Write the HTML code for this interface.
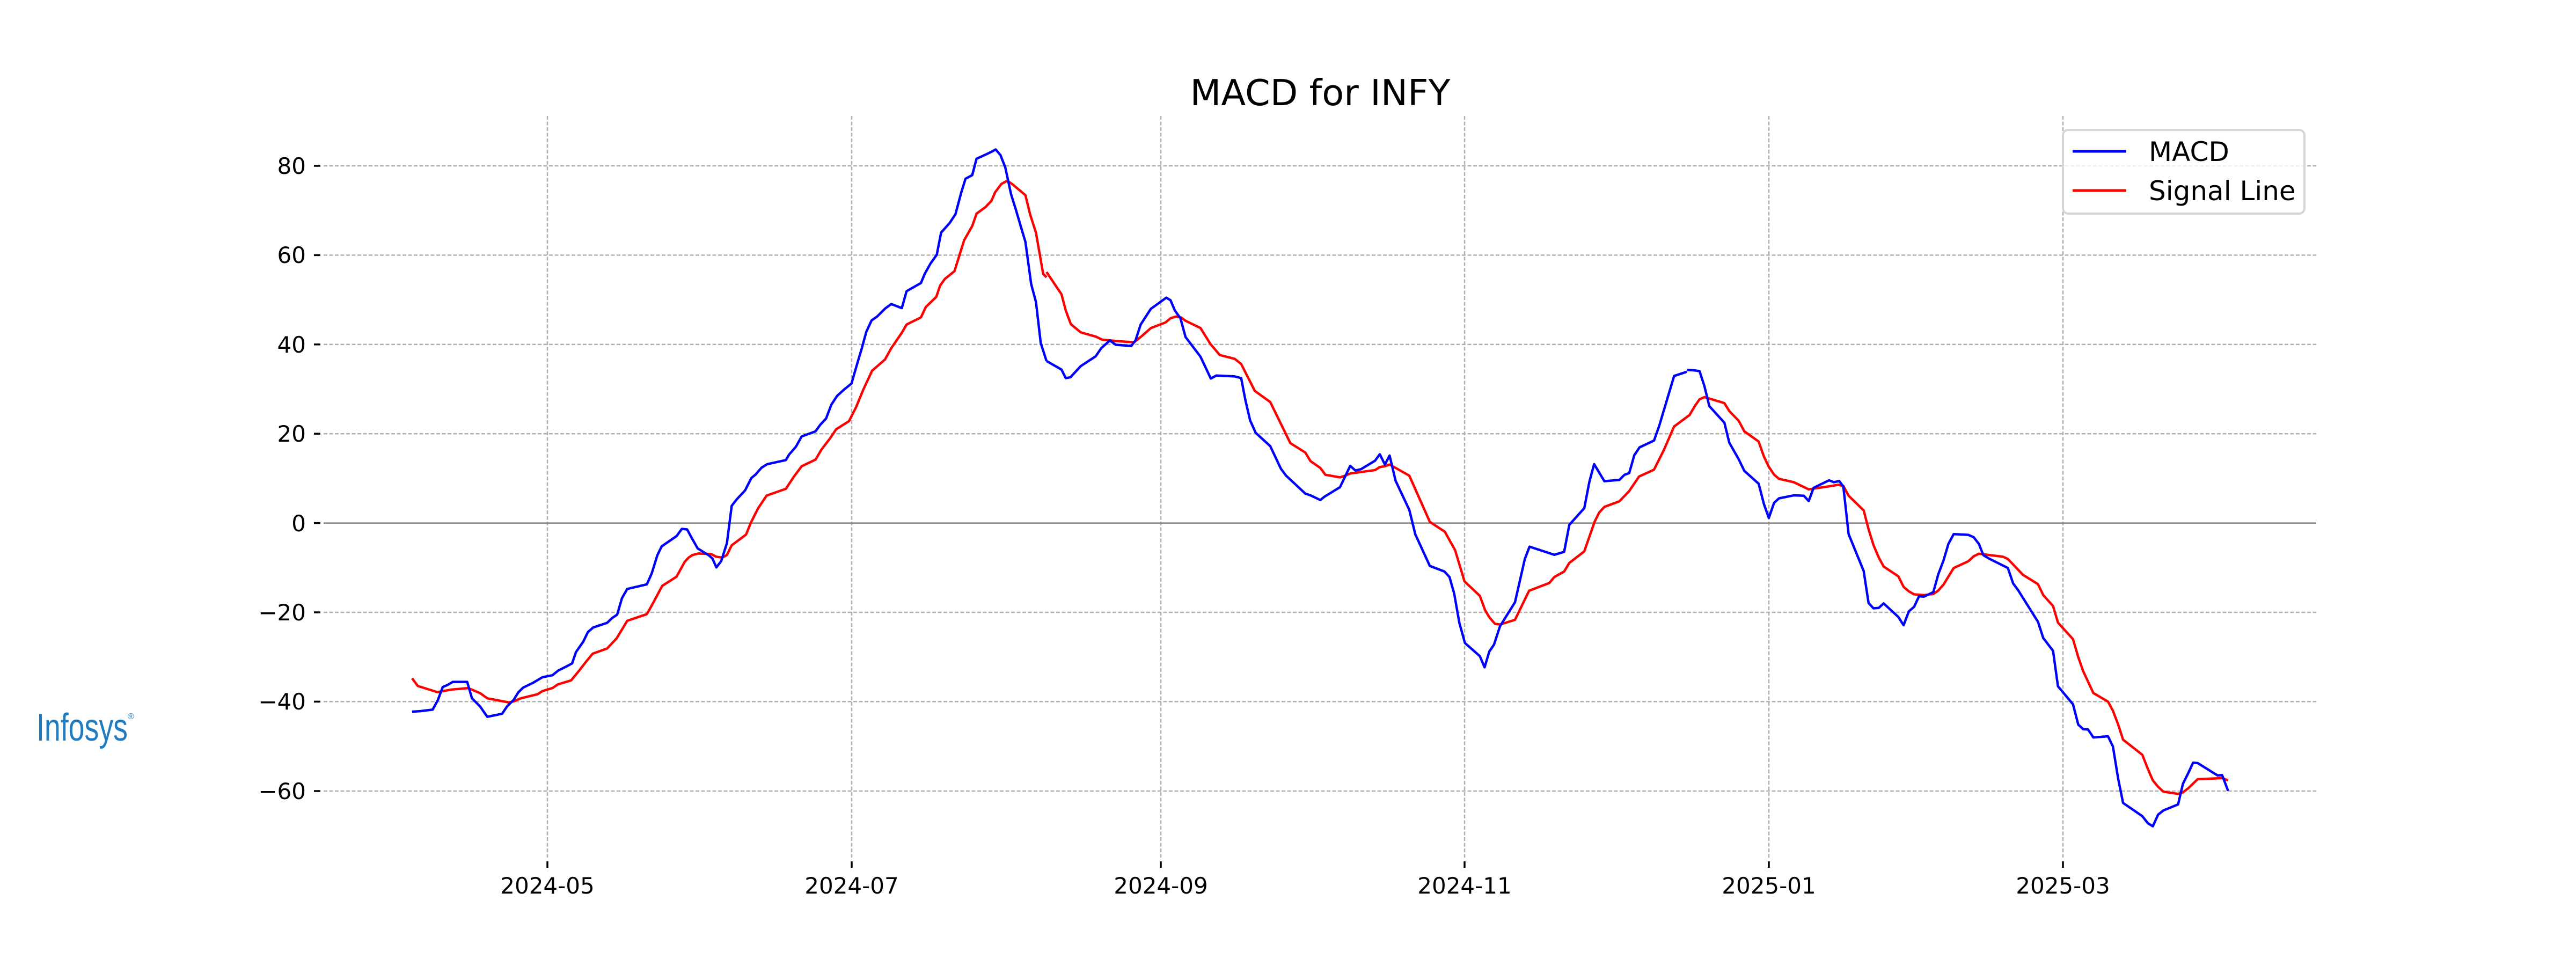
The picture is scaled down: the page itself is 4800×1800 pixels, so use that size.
<!DOCTYPE html>
<html><head><meta charset="utf-8"><style>html,body{margin:0;padding:0;background:#fff}svg{display:block}</style></head>
<body>
<svg xmlns="http://www.w3.org/2000/svg" width="4800" height="1800" viewBox="0 0 4800 1800" font-family="DejaVu Sans, Liberation Sans, sans-serif">
<rect width="4800" height="1800" fill="#fff"/>
<g stroke="#b0b0b0" stroke-width="2.5" stroke-dasharray="7,3.5" fill="none">
<line x1="603" y1="309" x2="4316" y2="309"/>
<line x1="603" y1="475.4" x2="4316" y2="475.4"/>
<line x1="603" y1="641.8" x2="4316" y2="641.8"/>
<line x1="603" y1="808.2" x2="4316" y2="808.2"/>
<line x1="603" y1="1141" x2="4316" y2="1141"/>
<line x1="603" y1="1307.4" x2="4316" y2="1307.4"/>
<line x1="603" y1="1474" x2="4316" y2="1474"/>
<line x1="1020" y1="216" x2="1020" y2="1598"/>
<line x1="1587" y1="216" x2="1587" y2="1598"/>
<line x1="2163" y1="216" x2="2163" y2="1598"/>
<line x1="2729" y1="216" x2="2729" y2="1598"/>
<line x1="3296" y1="216" x2="3296" y2="1598"/>
<line x1="3844" y1="216" x2="3844" y2="1598"/>
</g>
<line x1="603" y1="974.6" x2="4316" y2="974.6" stroke="#808080" stroke-width="2.5"/>
<g stroke="#000" stroke-width="3.5">
<line x1="585" y1="309" x2="597" y2="309"/><line x1="585" y1="475.4" x2="597" y2="475.4"/><line x1="585" y1="641.8" x2="597" y2="641.8"/><line x1="585" y1="808.2" x2="597" y2="808.2"/><line x1="585" y1="974.6" x2="597" y2="974.6"/><line x1="585" y1="1141" x2="597" y2="1141"/><line x1="585" y1="1307.4" x2="597" y2="1307.4"/><line x1="585" y1="1474" x2="597" y2="1474"/>
<line x1="1020" y1="1605" x2="1020" y2="1617"/><line x1="1587" y1="1605" x2="1587" y2="1617"/><line x1="2163" y1="1605" x2="2163" y2="1617"/><line x1="2729" y1="1605" x2="2729" y2="1617"/><line x1="3296" y1="1605" x2="3296" y2="1617"/><line x1="3844" y1="1605" x2="3844" y2="1617"/>
</g>
<g font-size="42" fill="#000" text-anchor="end">
<text x="570" y="324">80</text><text x="570" y="490">60</text><text x="570" y="657">40</text><text x="570" y="823">20</text><text x="570" y="990">0</text><text x="570" y="1156">−20</text><text x="570" y="1322">−40</text><text x="570" y="1489">−60</text>
</g>
<g font-size="42" fill="#000" text-anchor="middle">
<text x="1020" y="1665">2024-05</text><text x="1587" y="1665">2024-07</text><text x="2163" y="1665">2024-09</text><text x="2729" y="1665">2024-11</text><text x="3296" y="1665">2025-01</text><text x="3844" y="1665">2025-03</text>
</g>
<text x="2460" y="196" font-size="67" text-anchor="middle" fill="#000">MACD for INFY</text>

<g fill="none" stroke-width="4.5" stroke-linejoin="round">
<g transform="translate(600,180) scale(0.892857,0.956663)">
<polyline vector-effect="non-scaling-stroke" stroke="#ff0000" points="188,1133 200,1148 241,1160 270,1155 305,1152 330,1162 345,1172 390,1180 400,1178 415,1172 450,1164 460,1158 481,1152 492,1145 520,1137 535,1120 550,1102 565,1085 595,1075 615,1055 637,1021 678,1008 690,988 710,953 740,935 757,906 765,898 773,893 785,890 812,891 822,896 835,898 845,893 855,874 885,853 895,830 910,802 928,777 968,764 985,740 1001,720 1030,707 1042,688 1060,666 1073,648 1100,632 1115,604 1130,570 1148,534 1175,512 1188,490 1210,460 1220,444 1250,430 1260,410 1282,390 1290,368 1300,355 1320,340 1330,310 1340,280 1357,252 1366,228 1385,215 1397,203 1405,186 1418,170 1430,164 1440,170 1468,192 1478,230 1490,265 1505,345 1512,352"/>
<polyline vector-effect="non-scaling-stroke" stroke="#0000ff" points="188,1198 205,1197 231,1194 242,1175 252,1150 262,1146 273,1140 303,1140 313,1172 330,1188 345,1208 376,1202 386,1188 400,1175 410,1160 420,1151 440,1142 460,1131 481,1127 493,1118 510,1110 522,1104 530,1082 545,1062 555,1043 566,1034 595,1025 605,1016 616,1009 626,977 637,959 678,950 688,929 700,893 709,876 740,856 751,842 762,843 773,862 784,880 808,894 815,900 823,917 833,905 845,870 855,797 866,784 883,767 896,743 905,736 917,723 929,716 968,708 975,697 989,682 1001,662 1030,652 1040,639 1052,627 1063,600 1075,583 1089,571 1105,559 1117,520 1126,492 1136,458 1147,436 1159,428 1175,413 1188,404 1210,412 1220,379 1250,363 1258,345 1270,325 1283,308 1292,265 1310,246 1322,229 1334,187 1343,160 1357,153 1366,121 1385,113 1398,107 1406,103 1416,114 1426,138 1438,190 1448,220 1460,258 1468,283 1480,365 1490,400 1500,480 1512,515"/>
</g>
<g transform="translate(1950,180) scale(0.797194)">
<polyline vector-effect="non-scaling-stroke" stroke="#ff0000" points="0,410 35,462 45,500 57,532 80,551 115,561 130,568 150,570 170,572 205,574 220,562 244,541 278,528 290,518 303,514 314,516 325,524 360,541 383,578 405,604 440,613 455,625 487,688 523,714 570,810 605,832 617,852 640,868 652,884 686,890 698,886 710,881 768,873 779,866 791,864 802,860 848,886 896,994 931,1017 955,1060 977,1133 1013,1167 1025,1200 1035,1217 1048,1232 1060,1234 1095,1223 1128,1155 1175,1137 1187,1123 1210,1110 1222,1090 1257,1063 1281,994 1292,972 1304,959 1339,946 1362,922 1385,888 1420,872 1443,826 1467,771 1502,745"/>
<polyline vector-effect="non-scaling-stroke" stroke="#0000ff" points="0,618 35,638 45,658 56,656 80,630 115,607 128,588 148,570 162,580 198,583 208,570 220,533 244,496 280,470 290,476 300,500 313,518 325,562 360,608 384,659 397,652 440,654 455,658 465,710 476,757 489,786 523,817 548,870 560,886 605,928 617,932 640,943 650,935 686,913 710,863 722,874 735,871 768,851 779,836 791,860 802,839 816,898 848,966 862,1023 896,1097 930,1110 942,1123 953,1162 965,1230 978,1277 1013,1308 1024,1334 1035,1297 1046,1281 1060,1238 1095,1182 1118,1081 1129,1052 1187,1071 1210,1064 1222,1001 1257,962 1269,900 1280,859 1304,899 1339,896 1351,884 1362,880 1374,838 1386,820 1420,804 1432,770 1467,653 1497,643"/>
</g>
<g transform="translate(3150,500) scale(0.701531)">
<polyline vector-effect="non-scaling-stroke" stroke="#ff0000" points="-4,392 12,365 24,348 37,342 90,358 103,379 128,405 143,433 181,460 195,500 208,527 222,548 235,559 274,568 314,587 375,578 392,575 406,578 420,604 460,643 473,693 486,735 500,768 513,792 552,818 566,846 580,858 594,866 620,868 645,865 658,856 672,840 699,796 738,778 752,765 766,758 830,766 843,772 883,814 923,839 937,868 963,897 976,941 1016,985 1030,1033 1043,1070 1070,1128 1109,1151 1122,1175 1136,1212 1149,1252 1200,1292 1215,1330 1228,1360 1242,1377 1256,1390 1295,1396 1308,1392 1322,1381 1347,1357 1412,1354 1428,1360"/>
<polyline vector-effect="non-scaling-stroke" stroke="#0000ff" points="-9,270 10,271 24,273 37,313 50,366 90,410 103,463 128,507 143,538 181,572 195,626 208,663 222,623 235,611 274,603 301,604 314,618 327,583 368,563 381,568 395,565 406,580 420,706 460,804 473,889 486,903 500,902 513,890 552,926 566,948 580,911 594,899 607,871 620,872 645,860 658,813 672,776 685,732 699,706 738,708 752,714 766,732 778,762 793,771 843,796 857,837 871,856 923,939 937,982 963,1016 976,1110 1016,1158 1030,1212 1043,1224 1056,1225 1070,1246 1109,1243 1122,1270 1136,1356 1149,1420 1200,1455 1215,1474 1228,1482 1242,1451 1256,1440 1295,1424 1308,1369 1322,1341 1335,1313 1347,1314 1400,1347 1412,1346 1428,1388"/>
</g>
</g>

<rect x="3844" y="242" width="450" height="156" rx="10" fill="#fff" fill-opacity="0.8" stroke="#d6d6d6" stroke-width="4"/>
<line x1="3862" y1="282" x2="3962" y2="282" stroke="#0000ff" stroke-width="5"/>
<line x1="3862" y1="355" x2="3962" y2="355" stroke="#ff0000" stroke-width="5"/>
<text x="4004" y="300" font-size="50" fill="#000">MACD</text>
<text x="4004" y="373" font-size="50" fill="#000">Signal Line</text>

<text x="68" y="1380" font-family="Liberation Sans, sans-serif" font-size="72" fill="#1f7cc0" textLength="170" lengthAdjust="spacingAndGlyphs">Infosys</text>
<text x="238" y="1340" font-family="Liberation Sans, sans-serif" font-size="16" fill="#1f7cc0">®</text>
</svg>
</body></html>
